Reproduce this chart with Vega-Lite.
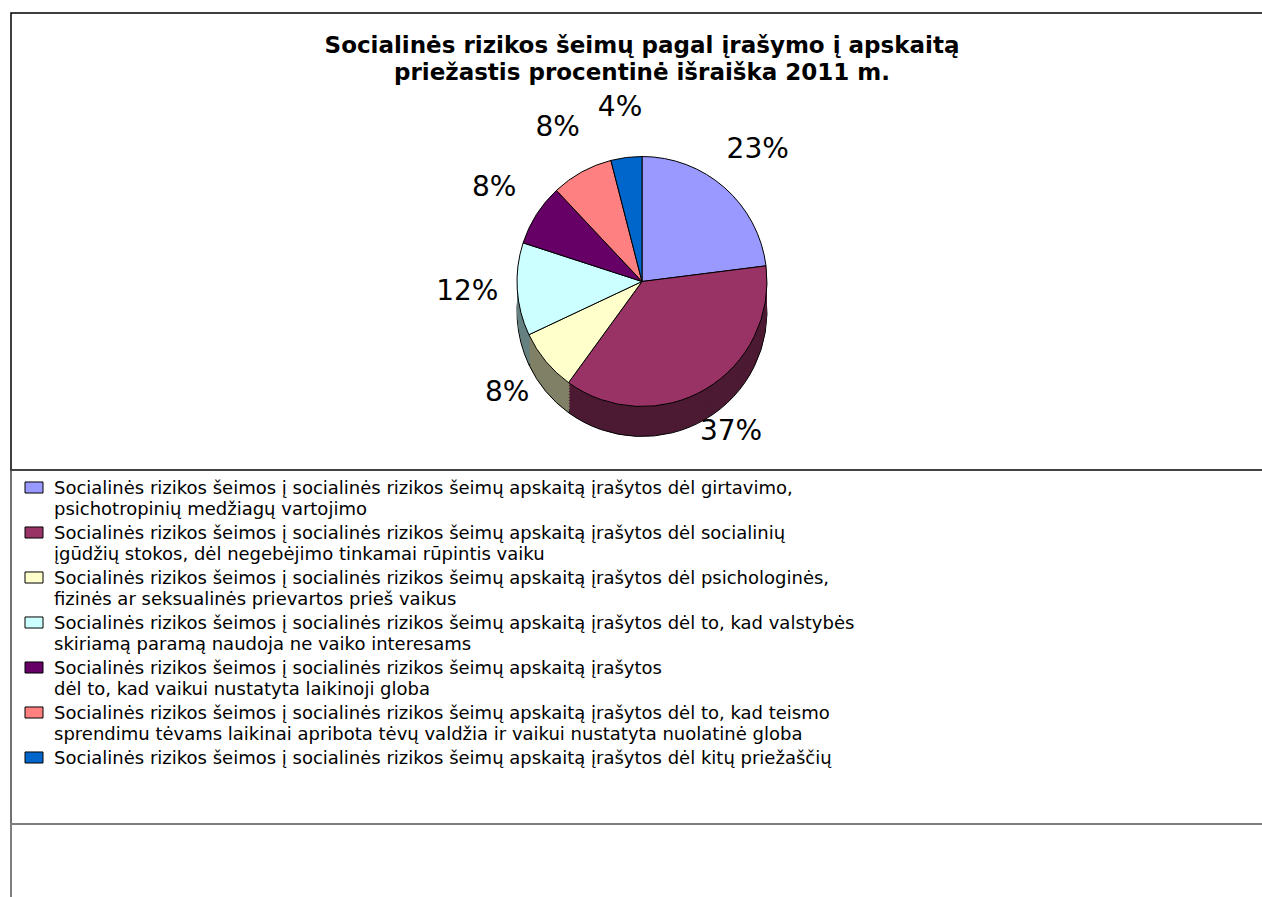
{
  "$schema": "https://vega.github.io/schema/vega-lite/v6.json",
  "background": "white",
  "padding": {"left": 9, "top": 12, "right": 0, "bottom": 0},
  "spacing": 0,
  "bounds": "flush",
  "config": {"font": "DejaVu Sans", "view": {"stroke": "black", "strokeWidth": 1.5}},
  "datasets": {
    "slices": [
      {"order": 1, "key": "girtavimas", "share": 0.23, "label": "Socialinės rizikos šeimos į socialinės rizikos šeimų apskaitą įrašytos dėl girtavimo,\npsichotropinių medžiagų vartojimo"},
      {"order": 2, "key": "įgūdžiai", "share": 0.37, "label": "Socialinės rizikos šeimos į socialinės rizikos šeimų apskaitą įrašytos dėl  socialinių\nįgūdžių stokos, dėl negebėjimo tinkamai rūpintis vaiku"},
      {"order": 3, "key": "prievarta", "share": 0.08, "label": "Socialinės rizikos šeimos į socialinės rizikos šeimų apskaitą įrašytos dėl  psichologinės,\nfizinės ar seksualinės prievartos prieš vaikus"},
      {"order": 4, "key": "parama", "share": 0.12, "label": "Socialinės rizikos šeimos į socialinės rizikos šeimų apskaitą įrašytos dėl to, kad valstybės\nskiriamą paramą naudoja ne vaiko interesams"},
      {"order": 5, "key": "laikinoji globa", "share": 0.08, "label": "Socialinės rizikos šeimos į socialinės rizikos šeimų apskaitą įrašytos\ndėl to, kad vaikui nustatyta laikinoji  globa"},
      {"order": 6, "key": "nuolatinė globa", "share": 0.08, "label": "Socialinės rizikos šeimos į socialinės rizikos šeimų apskaitą įrašytos dėl to, kad teismo\nsprendimu tėvams laikinai apribota tėvų valdžia ir vaikui nustatyta nuolatinė globa"},
      {"order": 7, "key": "kitos", "share": 0.04, "label": "Socialinės rizikos šeimos į socialinės rizikos šeimų apskaitą įrašytos dėl kitų priežaščių"}
    ]
  },
  "vconcat": [
    {
      "width": 1262,
      "height": 457,
      "view": {"stroke": "black", "strokeWidth": 1.5},
      "title": {
        "text": ["Socialinės rizikos šeimų pagal įrašymo į apskaitą", "priežastis procentinė išraiška 2011 m."],
        "frame": "group",
        "anchor": "middle",
        "orient": "top",
        "offset": -72,
        "baseline": "top",
        "font": "DejaVu Sans",
        "fontSize": 23,
        "fontWeight": "bold",
        "lineHeight": 27,
        "color": "black"
      },
      "data": {"name": "slices"},
      "encoding": {
        "theta": {"field": "share", "type": "quantitative", "stack": true},
        "order": {"field": "order", "type": "quantitative"}
      },
      "layer": [
        {"mark": {"type": "arc", "radius": 125, "yOffset": 70, "stroke": "black", "strokeWidth": 1},
         "encoding": {"color": {"field": "key", "type": "nominal", "legend": null, "scale": {"domain": ["girtavimas", "įgūdžiai", "prievarta", "parama", "laikinoji globa", "nuolatinė globa", "kitos"], "range": ["#4D4D80", "#4D1A33", "#808066", "#668080", "#330033", "#804040", "#003366"]}}}},
        {"mark": {"type": "arc", "radius": 125, "yOffset": 67},
         "encoding": {"color": {"field": "key", "type": "nominal", "legend": null, "scale": {"domain": ["girtavimas", "įgūdžiai", "prievarta", "parama", "laikinoji globa", "nuolatinė globa", "kitos"], "range": ["#4D4D80", "#4D1A33", "#808066", "#668080", "#330033", "#804040", "#003366"]}}}},
        {"mark": {"type": "arc", "radius": 125, "yOffset": 64},
         "encoding": {"color": {"field": "key", "type": "nominal", "legend": null, "scale": {"domain": ["girtavimas", "įgūdžiai", "prievarta", "parama", "laikinoji globa", "nuolatinė globa", "kitos"], "range": ["#4D4D80", "#4D1A33", "#808066", "#668080", "#330033", "#804040", "#003366"]}}}},
        {"mark": {"type": "arc", "radius": 125, "yOffset": 61},
         "encoding": {"color": {"field": "key", "type": "nominal", "legend": null, "scale": {"domain": ["girtavimas", "įgūdžiai", "prievarta", "parama", "laikinoji globa", "nuolatinė globa", "kitos"], "range": ["#4D4D80", "#4D1A33", "#808066", "#668080", "#330033", "#804040", "#003366"]}}}},
        {"mark": {"type": "arc", "radius": 125, "yOffset": 58},
         "encoding": {"color": {"field": "key", "type": "nominal", "legend": null, "scale": {"domain": ["girtavimas", "įgūdžiai", "prievarta", "parama", "laikinoji globa", "nuolatinė globa", "kitos"], "range": ["#4D4D80", "#4D1A33", "#808066", "#668080", "#330033", "#804040", "#003366"]}}}},
        {"mark": {"type": "arc", "radius": 125, "yOffset": 55},
         "encoding": {"color": {"field": "key", "type": "nominal", "legend": null, "scale": {"domain": ["girtavimas", "įgūdžiai", "prievarta", "parama", "laikinoji globa", "nuolatinė globa", "kitos"], "range": ["#4D4D80", "#4D1A33", "#808066", "#668080", "#330033", "#804040", "#003366"]}}}},
        {"mark": {"type": "arc", "radius": 125, "yOffset": 52},
         "encoding": {"color": {"field": "key", "type": "nominal", "legend": null, "scale": {"domain": ["girtavimas", "įgūdžiai", "prievarta", "parama", "laikinoji globa", "nuolatinė globa", "kitos"], "range": ["#4D4D80", "#4D1A33", "#808066", "#668080", "#330033", "#804040", "#003366"]}}}},
        {"mark": {"type": "arc", "radius": 125, "yOffset": 49},
         "encoding": {"color": {"field": "key", "type": "nominal", "legend": null, "scale": {"domain": ["girtavimas", "įgūdžiai", "prievarta", "parama", "laikinoji globa", "nuolatinė globa", "kitos"], "range": ["#4D4D80", "#4D1A33", "#808066", "#668080", "#330033", "#804040", "#003366"]}}}},
        {"mark": {"type": "arc", "radius": 125, "yOffset": 46},
         "encoding": {"color": {"field": "key", "type": "nominal", "legend": null, "scale": {"domain": ["girtavimas", "įgūdžiai", "prievarta", "parama", "laikinoji globa", "nuolatinė globa", "kitos"], "range": ["#4D4D80", "#4D1A33", "#808066", "#668080", "#330033", "#804040", "#003366"]}}}},
        {"mark": {"type": "arc", "radius": 125, "yOffset": 43},
         "encoding": {"color": {"field": "key", "type": "nominal", "legend": null, "scale": {"domain": ["girtavimas", "įgūdžiai", "prievarta", "parama", "laikinoji globa", "nuolatinė globa", "kitos"], "range": ["#4D4D80", "#4D1A33", "#808066", "#668080", "#330033", "#804040", "#003366"]}}}},
        {"mark": {"type": "arc", "radius": 125, "yOffset": 40, "stroke": "black", "strokeWidth": 1},
         "encoding": {"color": {"field": "key", "type": "nominal", "legend": null, "scale": {"domain": ["girtavimas", "įgūdžiai", "prievarta", "parama", "laikinoji globa", "nuolatinė globa", "kitos"], "range": ["#9999FF", "#993366", "#FFFFCC", "#CCFFFF", "#660066", "#FF8080", "#0066CC"]}}}},
        {"mark": {"type": "text", "radius": 175, "yOffset": 40, "font": "DejaVu Sans", "fontSize": 28, "color": "black"},
         "encoding": {"text": {"field": "share", "type": "quantitative", "format": ".0%"}}}
      ],
      "resolve": {"scale": {"color": "independent"}}
    },
    {
      "width": 1262,
      "height": 354,
      "view": {"stroke": "#444444", "strokeWidth": 1.5},
      "data": {"name": "slices"},
      "encoding": {
        "y": {"field": "order", "type": "ordinal", "scale": {"type": "point", "range": [17.5, 287.5], "padding": 0}, "axis": null}
      },
      "layer": [
        {"mark": {"type": "point", "shape": "M-0.75,-0.46L0.75,-0.46L0.75,0.46L-0.75,0.46Z", "size": 576, "filled": true, "opacity": 1, "stroke": "black", "strokeWidth": 1, "x": 23},
         "encoding": {"color": {"field": "key", "type": "nominal", "legend": null, "scale": {"domain": ["girtavimas", "įgūdžiai", "prievarta", "parama", "laikinoji globa", "nuolatinė globa", "kitos"], "range": ["#9999FF", "#993366", "#FFFFCC", "#CCFFFF", "#660066", "#FF8080", "#0066CC"]}}}},
        {"mark": {"type": "text", "x": 43, "align": "left", "baseline": "top", "dy": -7.5, "font": "DejaVu Sans", "fontSize": 18, "lineHeight": 21, "lineBreak": "\n", "color": "black"},
         "encoding": {"text": {"field": "label", "type": "nominal"}}}
      ]
    },
    {
      "width": 1262,
      "height": 120,
      "view": {"stroke": "#7F7F7F", "strokeWidth": 2},
      "data": {"name": "slices"},
      "mark": {"type": "rule", "opacity": 0},
      "encoding": {}
    }
  ]
}
